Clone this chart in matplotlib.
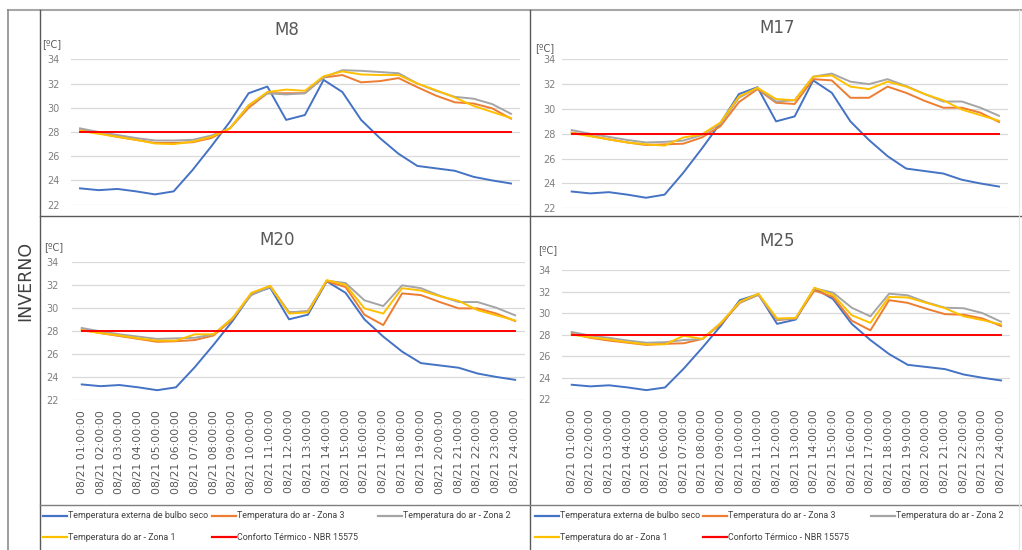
import matplotlib.pyplot as plt
from matplotlib.lines import Line2D

# hourly series for 21 August (winter day)
hours = list(range(1, 25))
hour_labels = [f"08/21 {h:02d}:00:00" for h in hours]

t_ext = [23.35, 23.2, 23.3, 23.1, 22.85, 23.1, 24.85, 26.8, 28.85, 31.2, 31.75, 29.0,
         29.4, 32.3, 31.3, 29.0, 27.5, 26.2, 25.2, 25.0, 24.8, 24.3, 24.0, 23.75]
conforto = [28.0] * 24

m8_z3 = [28.15, 27.9, 27.6, 27.35, 27.1, 27.1, 27.15, 27.5, 28.3, 30.0, 31.2, 31.2,
         31.2, 32.5, 32.7, 32.1, 32.2, 32.45, 31.7, 31.0, 30.45, 30.35, 29.95, 29.1]
m8_z2 = [28.3, 28.0, 27.75, 27.5, 27.3, 27.3, 27.35, 27.7, 28.3, 30.2, 31.2, 31.1,
         31.2, 32.5, 33.1, 33.05, 32.95, 32.85, 32.0, 31.4, 30.9, 30.75, 30.3, 29.5]
m8_z1 = [28.1, 27.85, 27.6, 27.35, 27.05, 27.0, 27.2, 27.6, 28.3, 30.2, 31.3, 31.5,
         31.4, 32.6, 33.0, 32.75, 32.7, 32.7, 32.0, 31.45, 30.85, 30.15, 29.65, 29.15]

m17_z3 = [28.1, 27.85, 27.55, 27.3, 27.1, 27.15, 27.2, 27.7, 28.6, 30.55, 31.6, 30.5,
          30.4, 32.4, 32.3, 30.9, 30.9, 31.8, 31.3, 30.65, 30.1, 30.1, 29.7, 28.95]
m17_z2 = [28.3, 28.0, 27.75, 27.5, 27.3, 27.35, 27.45, 27.9, 28.8, 30.9, 31.7, 30.6,
          30.7, 32.6, 32.85, 32.2, 32.0, 32.4, 31.85, 31.2, 30.6, 30.6, 30.1, 29.45]
m17_z1 = [28.05, 27.8, 27.55, 27.3, 27.15, 27.05, 27.7, 27.95, 28.9, 31.0, 31.7, 30.8,
          30.7, 32.6, 32.7, 31.8, 31.6, 32.2, 31.8, 31.2, 30.7, 29.95, 29.5, 29.05]

m20_z3 = [28.1, 27.8, 27.55, 27.3, 27.05, 27.1, 27.2, 27.6, 29.0, 31.2, 31.9, 29.6,
          29.7, 32.3, 31.8, 29.4, 28.5, 31.25, 31.1, 30.5, 29.95, 29.95, 29.5, 28.85]
m20_z2 = [28.25, 27.95, 27.7, 27.5, 27.3, 27.35, 27.4, 27.7, 29.1, 31.1, 31.8, 29.6,
          29.7, 32.35, 32.15, 30.65, 30.15, 31.95, 31.7, 31.05, 30.5, 30.5, 30.0, 29.35]
m20_z1 = [28.05, 27.8, 27.6, 27.35, 27.15, 27.15, 27.7, 27.7, 29.1, 31.3, 31.9, 29.5,
          29.6, 32.4, 32.0, 29.95, 29.5, 31.7, 31.5, 31.0, 30.6, 29.8, 29.35, 28.9]

m25_z3 = [28.1, 27.7, 27.45, 27.25, 27.05, 27.15, 27.2, 27.6, 29.0, 30.95, 31.7, 29.35,
          29.5, 32.1, 31.5, 29.3, 28.4, 31.2, 30.95, 30.4, 29.9, 29.85, 29.5, 28.8]
m25_z2 = [28.25, 27.9, 27.7, 27.45, 27.25, 27.3, 27.5, 27.6, 29.1, 31.0, 31.7, 29.4,
          29.5, 32.3, 31.9, 30.5, 29.7, 31.8, 31.65, 31.0, 30.5, 30.45, 30.0, 29.2]
m25_z1 = [28.0, 27.75, 27.55, 27.3, 27.1, 27.1, 27.9, 27.6, 29.1, 31.05, 31.8, 29.5,
          29.55, 32.35, 31.7, 29.8, 29.1, 31.5, 31.45, 30.95, 30.45, 29.7, 29.35, 28.95]

series_names = ["Temperatura externa de bulbo seco", "Temperatura do ar - Zona 3",
                "Temperatura do ar - Zona 2", "Temperatura do ar - Zona 1",
                "Conforto Térmico - NBR 15575"]
series_colors = ["#4472C4", "#ED7D31", "#A5A5A5", "#FFC000", "#FF0000"]

W, H = 1022, 550
fig = plt.figure(figsize=(W / 100, H / 100), dpi=100)
fig.patch.set_facecolor("white")


def px_axes(l, t, r, b):
    # pixel box (top-left origin) -> figure fraction axes
    return fig.add_axes([l / W, 1 - b / H, (r - l) / W, (b - t) / H])


def px_line(xs, ys, color, lw):
    fig.add_artist(Line2D([x / W for x in xs], [1 - y / H for y in ys],
                          color=color, lw=lw, transform=fig.transFigure))


def px_text(x, y, s, **kw):
    return fig.text(x / W, 1 - y / H, s, **kw)


panels = [
    ("M8", (70.6, 59.3, 520.4, 204.7), (287, 30), (42, 44), 8, False,
     [m8_z3, m8_z2, m8_z1]),
    ("M17", (562.4, 59.3, 1008.3, 208.3), (777, 28), (535, 48), 5, False,
     [m17_z3, m17_z2, m17_z1]),
    ("M20", (72.3, 261.7, 524.6, 400.0), (277, 240), (44, 247), 10, True,
     [m20_z3, m20_z2, m20_z1]),
    ("M25", (562.4, 270.0, 1010.4, 399.3), (777, 241), (538, 250), 8.5, True,
     [m25_z3, m25_z2, m25_z1]),
]

for title, box, tpos, upos, ypad, show_x, zones in panels:
    ax = px_axes(*box)
    ax.set_facecolor("none")
    data = [t_ext] + zones + [conforto]
    for vals, c in zip(data, series_colors):
        ax.plot(hours, vals, color=c, lw=1.4, solid_joinstyle="round")
    ax.set_xlim(0.5, 24.5)
    ax.set_ylim(22, 34)
    ax.set_yticks(range(22, 35, 2))
    ax.grid(axis="y", color="#D9D9D9", lw=0.9)
    ax.set_axisbelow(True)
    for s in ax.spines.values():
        s.set_visible(False)
    ax.tick_params(axis="y", length=0, pad=ypad, labelsize=7, labelcolor="#7F7F7F")
    ax.set_xticks(hours)
    if show_x:
        ax.set_xticklabels(hour_labels, rotation=90, fontsize=7.8, color="#595959")
        ax.tick_params(axis="x", length=0, pad=7)
    else:
        ax.tick_params(axis="x", length=0, labelbottom=False)
    px_text(tpos[0], tpos[1], title, ha="center", va="center", fontsize=12, color="#595959")
    px_text(upos[0], upos[1], "[ºC]", ha="left", va="center", fontsize=7, color="#595959")

# frame around the panel grid
px_line([8, W], [10, 10], "#A6A6A6", 1.5)
px_line([8, 8], [10, H], "#8C8C8C", 1.2)
px_line([40, 40], [10, H], "#595959", 1.0)
px_line([530, 530], [10, H], "#595959", 1.0)
px_line([40, W], [216, 216], "#595959", 1.0)
px_line([40, W], [505, 505], "#7F7F7F", 1.0)
px_line([1019, 1019], [10, H], "#E5E5E5", 0.8)

px_text(25, 281, "INVERNO", rotation=90, ha="center", va="center", fontsize=12.5,
        color="#404040")

# legends under each column; font size chosen so the longest entry fits its slot
legend_font = ["Roboto", "DejaVu Sans"]
renderer = fig.canvas.get_renderer()
probe = px_text(0, 0, series_names[0], fontsize=10, family=legend_font)
probe_w = probe.get_window_extent(renderer).width
probe.remove()
legend_size = 10 * 141 / probe_w

legend_slots = [(0, 0, 0), (1, 0, 1), (2, 0, 2), (3, 1, 0), (4, 1, 1)]
for col_x in ([43, 212, 378], [535, 703, 871]):
    for idx, row, col in legend_slots:
        x0 = col_x[col]
        y0 = 516 if row == 0 else 537
        px_line([x0, x0 + 24], [y0, y0], series_colors[idx], 1.6)
        px_text(x0 + 25, y0, series_names[idx], ha="left", va="center",
                fontsize=legend_size, color="#404040", family=legend_font)

fig.savefig("out.png", dpi=100)
